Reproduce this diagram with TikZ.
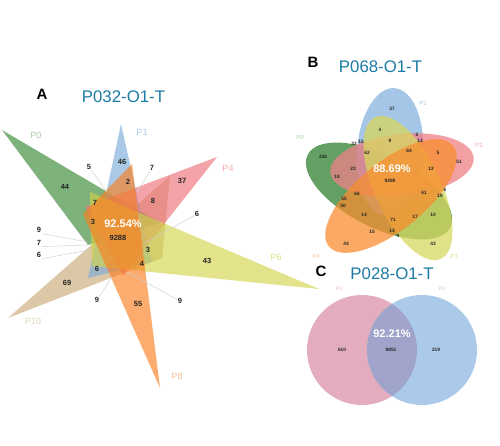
\documentclass[tikz,border=0pt]{standalone}
\usepackage{fontspec}
\setmainfont{Liberation Sans}
\definecolor{titleblue}{RGB}{27,122,165}
\definecolor{aG}{RGB}{55,137,50}
\definecolor{aB}{RGB}{123,172,217}
\definecolor{aP}{RGB}{238,114,121}
\definecolor{aY}{RGB}{210,212,75}
\definecolor{aO}{RGB}{250,127,32}
\definecolor{aT}{RGB}{201,169,120}
\definecolor{bG}{RGB}{48,128,48}
\definecolor{bB}{RGB}{135,179,222}
\definecolor{bP}{RGB}{239,128,135}
\definecolor{bY}{RGB}{215,215,95}
\definecolor{bO}{RGB}{248,142,48}
\definecolor{cPk}{RGB}{227,172,191}
\definecolor{cBl}{RGB}{171,201,232}
\definecolor{cOv}{RGB}{161,164,202}
\definecolor{lG}{RGB}{165,205,160}
\definecolor{lB}{RGB}{170,200,232}
\definecolor{lP}{RGB}{245,168,172}
\definecolor{lY}{RGB}{220,220,140}
\definecolor{lO}{RGB}{250,192,150}
\definecolor{lT}{RGB}{225,210,185}
\definecolor{lPk}{RGB}{235,180,200}
\begin{document}
\begin{tikzpicture}[x=1pt,y=-1pt,
  num/.style={font=\bfseries\fontsize{7.5}{8}\selectfont, inner sep=0pt, outer sep=1pt, text=black!85},
  bnum/.style={font=\bfseries\fontsize{4.8}{5}\selectfont, inner sep=0pt, text=black!85},
  pct/.style={font=\bfseries\fontsize{11}{12}\selectfont, text=white, inner sep=0pt},
  ttl/.style={font=\fontsize{16.8}{18}\selectfont, text=titleblue, inner sep=0pt},
  panel/.style={font=\bfseries\fontsize{15}{16}\selectfont, inner sep=0pt},
  lead/.style={draw=black!18, line width=0.5pt},
  alab/.style={font=\fontsize{9}{10}\selectfont, inner sep=0pt},
  blab/.style={font=\fontsize{6}{7}\selectfont, inner sep=0pt},
  clab/.style={font=\fontsize{5}{6}\selectfont, inner sep=0pt},
  atri/.style={fill=#1, fill opacity=0.65},
  bell/.style={fill=#1, fill opacity=0.75}
]
\useasboundingbox (0,0) rectangle (500,445);

% ---------------- Panel A ----------------
\fill[atri=aT] (8,318) -- (170,176) -- (162,258) -- cycle;
\fill[atri=aG] (2,130) -- (160,223) -- (88,245) -- cycle;
\fill[atri=aB] (121,124) -- (88,278) -- (152,262) -- cycle;
\fill[atri=aP] (217,157) -- (85,207) -- (123,276) -- cycle;
\fill[atri=aY] (319,289) -- (90,192) -- (92,266) -- cycle;
\fill[atri=aO] (160,388) -- (83,214) -- (132,164) -- cycle;

\node[panel] (pA) at (42,94) {A};
\node[ttl] (tA) at (123.5,97) {P032-O1-T};

\node[alab, text=lG] (aP0) at (36,135) {P0};
\node[alab, text=lB] (aP1) at (142,132) {P1};
\node[alab, text=lP] (aP4) at (228,168) {P4};
\node[alab, text=lY] (aP6) at (276,257) {P6};
\node[alab, text=lO] (aP8) at (177,376) {P8};
\node[alab, text=lT] (aP10) at (33,321) {P10};

\coordinate (ta5) at (107,192);
\coordinate (ta7) at (137,192);
\coordinate (ta6) at (145,243);
\coordinate (tl9) at (88,242);
\coordinate (tl7) at (88,245);
\coordinate (tl6) at (89,250);
\coordinate (tb9) at (112,277);
\coordinate (tr9) at (127,272);

\node[num] (a44) at (65,187) {44};
\node[num] (a46) at (122,162) {46};
\node[num] (a5) at (89,167) {5};
\node[num] (a7t) at (152,168) {7};
\node[num] (a2) at (128,182) {2};
\node[num] (a37) at (182,181) {37};
\node[num] (a7) at (95,203) {7};
\node[num] (a8) at (153,201) {8};
\node[num] (a6r) at (197,214) {6};
\node[num] (a3l) at (93,222) {3};
\node[pct] (apct) at (123,224) {92.54\%};
\node[num] (a9288) at (118,238) {9288};
\node[num] (a3r) at (148,250) {3};
\node[num] (a4) at (142,264) {4};
\node[num] (a43) at (207,261) {43};
\node[num] (a9l) at (39,230) {9};
\node[num] (a7l) at (39,243) {7};
\node[num] (a6l) at (39,255) {6};
\node[num] (a6) at (97,269) {6};
\node[num] (a69) at (67,283) {69};
\node[num] (a9b) at (97,300) {9};
\node[num] (a55) at (138,304) {55};
\node[num] (a9r) at (180,301) {9};

\draw[lead] (a5) -- (ta5);
\draw[lead] (a7t) -- (ta7);
\draw[lead] (a6r) -- (ta6);
\draw[lead] (a9l.south east) -- (tl9);
\draw[lead] (a7l.south east) -- (tl7);
\draw[lead] (a6l.south east) -- (tl6);
\draw[lead] (a9b) -- (tb9);
\draw[lead] (a9r) -- (tr9);

% ---------------- Panel B ----------------
\fill[bell=bG, rotate around={-27:(379,191)}] (379,191) ellipse [x radius=80pt, y radius=36pt];
\fill[bell=bB, rotate around={86:(390,152)}] (390,152) ellipse [x radius=64pt, y radius=33pt];
\fill[bell=bP, rotate around={6:(402,165)}] (402,165) ellipse [x radius=72pt, y radius=31pt];
\fill[bell=bY, rotate around={-65:(408,188)}] (408,188) ellipse [x radius=78pt, y radius=33pt];
\fill[bell=bO, rotate around={39:(391,196)}] (391,196) ellipse [x radius=80pt, y radius=34pt];

\node[panel] (pB) at (313,62) {B};
\node[ttl] (tB) at (380.5,67) {P068-O1-T};

\node[blab, text=lG] (bP0) at (300,137) {P0};
\node[blab, text=lB] (bP1) at (423,103) {P1};
\node[blab, text=lP] (bP2) at (479,145) {P2};
\node[blab, text=lY] (bP3) at (454,256) {P3};
\node[blab, text=lO] (bP4) at (316,256) {P4};

\node[bnum] (b37) at (392,109) {37};
\node[bnum] (b4t) at (380,130) {4};
\node[bnum] (b22) at (354,144) {22};
\node[bnum] (b15t) at (361,142) {15};
\node[bnum] (b9) at (390,141) {9};
\node[bnum] (b5t) at (417,135) {5};
\node[bnum] (b13t) at (420,141) {13};
\node[bnum] (b64) at (409,151) {64};
\node[bnum] (b5) at (438,153) {5};
\node[bnum] (b436) at (323,157) {436};
\node[bnum] (b62) at (367,153) {62};
\node[bnum] (b51) at (459,162) {51};
\node[bnum] (b23) at (353,169) {23};
\node[bnum] (b18) at (337,177) {18};
\node[bnum] (b12) at (431,169) {12};
\node[pct] (bpct) at (392,169) {88.69\%};
\node[bnum] (b9289) at (390,181) {9289};
\node[bnum] (b61) at (424,193) {61};
\node[bnum] (b6) at (445,190) {6};
\node[bnum] (b19) at (440,196) {19};
\node[bnum] (b66) at (357,194) {66};
\node[bnum] (b55) at (344,199) {55};
\node[bnum] (b50) at (343,206) {50};
\node[bnum] (b14) at (364,215) {14};
\node[bnum] (b71) at (393,220) {71};
\node[bnum] (b17) at (415,217) {17};
\node[bnum] (b10) at (433,215) {10};
\node[bnum] (b15) at (372,232) {15};
\node[bnum] (b13) at (392,231) {13};
\node[bnum] (b4) at (398,236) {4};
\node[bnum] (b44) at (346,244) {44};
\node[bnum] (b43) at (433,244) {43};

% ---------------- Panel C ----------------
\fill[cPk] (362,350) circle[radius=55pt];
\fill[cBl] (422,350) circle[radius=55pt];
\begin{scope}
  \clip (362,350) circle[radius=55pt];
  \fill[cOv] (422,350) circle[radius=55pt];
\end{scope}

\node[panel] (pC) at (321,271) {C};
\node[ttl] (tC) at (392,274) {P028-O1-T};
\node[clab, text=lPk] (cP0) at (339,289) {P0};
\node[clab, text=lB] (cP2) at (442,289) {P2};
\node[pct] (cpct) at (392,334) {92.21\%};
\node[bnum] (c610) at (342,350) {610};
\node[bnum] (c9851) at (391,350) {9851};
\node[bnum] (c219) at (436,350) {219};
\end{tikzpicture}
\end{document}
